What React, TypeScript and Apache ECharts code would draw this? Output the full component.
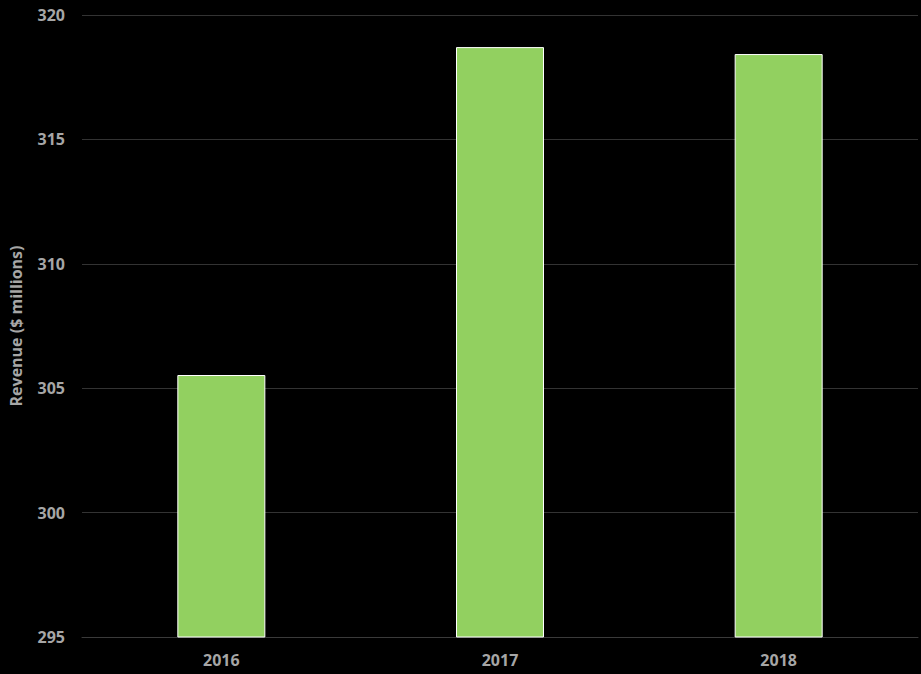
import React, { useEffect, useRef } from "react";
import * as echarts from "echarts";

const categories = ["2016", "2017", "2018"];
const revenue = [305.53, 318.71, 318.43];
const yTicks = { min: 295, max: 320, interval: 5 };

export default function App() {
  const ref = useRef<HTMLDivElement>(null);
  useEffect(() => {
    if (!ref.current) return;
    const chart = echarts.init(ref.current, undefined, { renderer: "svg" });
    chart.setOption({
      animation: false,
      backgroundColor: "#000000",
      grid: { left: 78, right: 3, top: 15, bottom: 37 },
      xAxis: {
        type: "category",
        data: categories,
        axisLine: { show: true, lineStyle: { color: "#3a3a3a" } },
        axisTick: { show: false },
        axisLabel: {
          color: "#a6a6a6",
          fontFamily: "Open Sans",
          fontWeight: "bold",
          fontSize: 16,
          margin: 15,
        },
      },
      yAxis: {
        type: "value",
        min: yTicks.min,
        max: yTicks.max,
        interval: yTicks.interval,
        name: "Revenue ($ millions)",
        nameLocation: "middle",
        nameGap: 58,
        nameTextStyle: {
          color: "#a6a6a6",
          fontFamily: "Open Sans",
          fontWeight: "bold",
          fontSize: 16,
        },
        axisLine: { show: false },
        axisTick: { show: false },
        splitLine: { lineStyle: { color: "#333333", width: 1 } },
        axisLabel: {
          color: "#a6a6a6",
          fontFamily: "Open Sans",
          fontWeight: "bold",
          fontSize: 16,
          margin: 17,
        },
      },
      series: [
        {
          type: "bar",
          data: revenue,
          barWidth: 88,
          itemStyle: { color: "#92D060", borderColor: "#ffffff", borderWidth: 1 },
        },
      ],
    });
    return () => chart.dispose();
  }, []);
  return (
    <div
      ref={ref}
      style={{ position: "fixed", left: 0, top: 0, width: 921, height: 674, background: "#000" }}
    />
  );
}
